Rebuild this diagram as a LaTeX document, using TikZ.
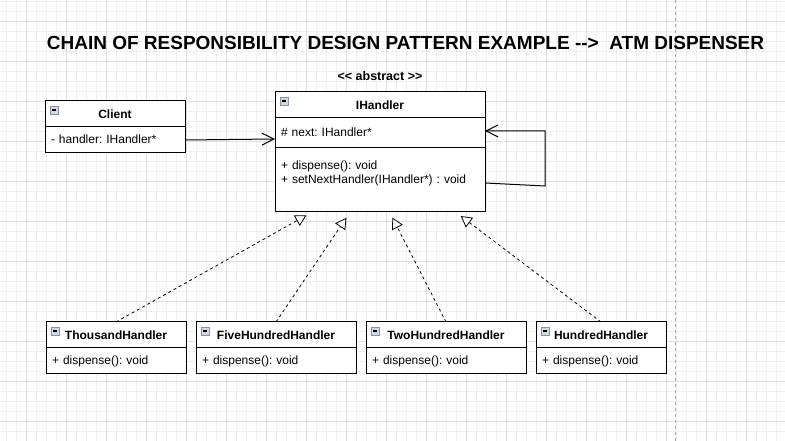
\documentclass[tikz,border=0pt]{standalone}
\usepackage{fontspec}
\setmainfont{Liberation Sans}
\usepackage{tikz}
\usetikzlibrary {arrows.meta,
                 calc,
                 positioning}
\definecolor{iconfill}{HTML}{D3D7DF}
\definecolor{iconline}{HTML}{8A93A3}
\frenchspacing
\tikzset{
        minorgrid/.style={gray!12, line width=0.8pt},
        majorgrid/.style={gray!25, line width=0.8pt},
        pagebreak/.style={gray!70, line width=0.7pt, dash pattern=on 3pt off 3pt},
        base/.style={draw, line width=1pt, fill=white, outer sep=0pt,
                     font=\fontsize{12}{14}\selectfont},
        head/.style={base, minimum height=26pt, inner sep=0pt,
                     font=\bfseries\fontsize{12}{14}\selectfont,
                     path picture={
                       \draw[iconline, line width=0.6pt, fill=iconfill]
                         ($(path picture bounding box.north west)+(5pt,-5pt)$)
                         rectangle ++(8pt,-8pt);
                       \draw[black, line width=1.2pt]
                         ($(path picture bounding box.north west)+(7pt,-9pt)$)
                         -- ++(4pt,0pt);
                     }},
        member/.style={base, align=left, inner xsep=6pt, inner ysep=0pt,
                       minimum height=26pt, text height=9.5pt, text depth=1.5pt
                       },
        stereo/.style={inner sep=0pt, font=\bfseries\fontsize{12.5}{14}\selectfont},
        title/.style={inner sep=0pt, font=\bfseries\fontsize{19}{22}\selectfont},
        assoc/.style={-{Straight Barb[length=12pt, width=12pt]}, line width=1pt},
        realize/.style={-{Triangle[open, fill=white, length=11pt, width=12pt]},
                        line width=0.8pt, dash pattern=on 3pt off 3pt},
 }

\begin{document}
\begin{tikzpicture}[x=1pt, y=1pt]
    \fill[white] (0,0) rectangle (785,441);
    \useasboundingbox (0,0) rectangle (785,441);
    \foreach \gx in {6,16,...,785} \draw[minorgrid] (\gx,0) -- (\gx,441);
    \foreach \gy in {0,10,...,440} \draw[minorgrid] (0,\gy) -- (785,\gy);
    \foreach \gx in {26,66,...,785} \draw[majorgrid] (\gx,0) -- (\gx,441);
    \foreach \gy in {20,60,...,420} \draw[majorgrid] (0,\gy) -- (785,\gy);
    \draw[pagebreak] (675,0) -- (675,441);

    \node[title] (title) at (405.5,398)
         {CHAIN OF RESPONSIBILITY DESIGN PATTERN EXAMPLE -{}-{}>\ \ ATM DISPENSER};

    \node[head, minimum width=140pt, anchor=north west] (client) at (45,340) {Client};
    \node[member, below=0pt of client, text width=128pt] (clientattr) {- handler: IHandler*};

    \node[head, minimum width=210pt, anchor=north west] (ihandler) at (275,349) {IHandler};
    \node[stereo, above=11pt of ihandler] (abstract) {<{}< abstract >{}>};
    \node[member, below=0pt of ihandler, text width=198pt, minimum height=30pt]
         (nextattr) {\# next: IHandler*};
    \node[member, below=0pt of nextattr, text width=198pt, text height=22pt, text depth=42pt]
         (methods) {+ dispense(): void\\+ setNextHandler(IHandler*) : void};

    \node[head, minimum width=140pt, anchor=north west] (thousand) at (46,119) {ThousandHandler};
    \node[head, minimum width=160pt, right=10pt of thousand] (fivehundred) {FiveHundredHandler};
    \node[head, minimum width=160pt, right=10pt of fivehundred] (twohundred) {TwoHundredHandler};
    \node[head, minimum width=130pt, right=10pt of twohundred] (hundred) {HundredHandler};
    \node[member, below=0pt of thousand, text width=128pt] (thousandops) {+ dispense(): void};
    \node[member, below=0pt of fivehundred, text width=148pt] (fivehundredops) {+ dispense(): void};
    \node[member, below=0pt of twohundred, text width=148pt] (twohundredops) {+ dispense(): void};
    \node[member, below=0pt of hundred, text width=118pt] (hundredops) {+ dispense(): void};

    \coordinate (loopturn) at (545,255);

    \draw[assoc] (clientattr.east) -- ($(nextattr.west)+(0,-6)$);
    \draw[assoc] ($(methods.east)+(0,-3)$) -- (loopturn) |- ($(nextattr.east)+(0,2)$);
    \draw[realize] (thousand.north) -- ($(methods.south west)+(31.4,-3.3)$);
    \draw[realize] (fivehundred.north) -- ($(methods.south west)+(71.4,-5.7)$);
    \draw[realize] (twohundred.north) -- ($(methods.south west)+(117.4,-5.7)$);
    \draw[realize] (hundred.north) -- ($(methods.south west)+(185.7,-4)$);

\end{tikzpicture}
\end{document}
